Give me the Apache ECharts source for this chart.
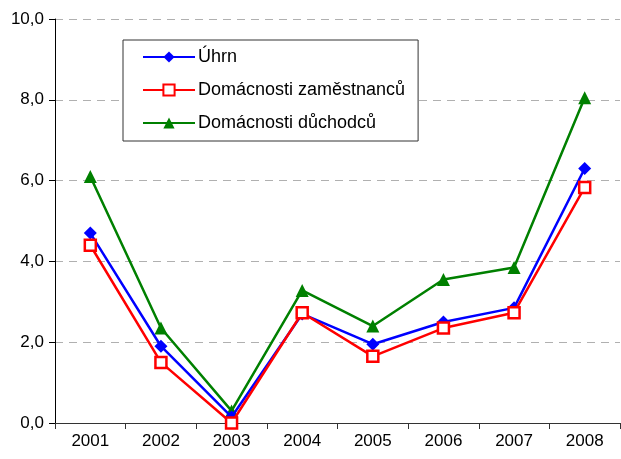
<!DOCTYPE html>
<html>
<head>
<meta charset="utf-8">
<script src="https://cdn.jsdelivr.net/npm/echarts@6/dist/echarts.min.js"></script>
<style>
	html, body { margin: 0; padding: 0; background: #fff; }
	#chart { width: 621px; height: 459px; }
</style>
</head>
<body>
<div id="chart"></div>
<script>
var years = ['2001', '2002', '2003', '2004', '2005', '2006', '2007', '2008'];
var uhrn = [4.7, 1.9, 0.15, 2.7, 1.95, 2.5, 2.85, 6.3];
var zamestnanci = [4.4, 1.5, 0.0, 2.73, 1.65, 2.35, 2.73, 5.83];
var duchodci = [6.1, 2.35, 0.3, 3.28, 2.4, 3.55, 3.85, 8.05];
var yTicks = [0, 2, 4, 6, 8, 10];

var font = '"Liberation Sans", Arial, sans-serif';

function fmt(v) {
	return v.toFixed(1).replace('.', ',');
}

var chart = echarts.init(document.getElementById('chart'));
var option = {
	animation: false,
	textStyle: { fontFamily: font },
	grid: { left: 55, top: 19, right: 1, bottom: 36, containLabel: false },
	legend: {
		orient: 'vertical',
		left: 123,
		top: 40,
		padding: [8, 13, 9, 19],
		itemGap: 15,
		itemWidth: 52,
		itemHeight: 14,
		borderColor: '#333',
		borderWidth: 1,
		backgroundColor: '#fff',
		selectedMode: false,
		textStyle: { fontFamily: font, fontSize: 18, color: '#000', padding: [0, 0, 0, -2] },
		data: ['Úhrn', 'Domácnosti zaměstnanců', 'Domácnosti důchodců']
	},
	xAxis: {
		type: 'category',
		data: years,
		boundaryGap: true,
		axisLine: { lineStyle: { color: '#333', width: 1 } },
		axisTick: { show: true, length: 6, lineStyle: { color: '#333' } },
		axisLabel: { fontSize: 17, color: '#000', margin: 10, fontFamily: font },
		splitLine: { show: false }
	},
	yAxis: {
		type: 'value',
		min: yTicks[0],
		max: yTicks[yTicks.length - 1],
		interval: 2,
		axisLine: { show: true, lineStyle: { color: '#000', width: 1 } },
		axisTick: { show: true, length: 6, lineStyle: { color: '#000' } },
		axisLabel: { fontSize: 17, color: '#000', margin: 11, fontFamily: font, formatter: fmt },
		splitLine: { show: true, lineStyle: { color: '#b0b0b0', type: [8, 6], width: 1 } }
	},
	series: [
		{
			name: 'Úhrn',
			type: 'line',
			data: uhrn,
			color: '#0000ff',
			symbol: 'diamond',
			symbolSize: 13,
			lineStyle: { width: 2.5, color: '#0000ff' },
			itemStyle: { color: '#0000ff' },
			z: 3
		},
		{
			name: 'Domácnosti zaměstnanců',
			type: 'line',
			data: zamestnanci,
			color: '#ff0000',
			symbol: 'rect',
			symbolSize: 11,
			lineStyle: { width: 2.5, color: '#ff0000' },
			itemStyle: { color: '#fff', borderColor: '#ff0000', borderWidth: 2.5 },
			z: 4
		},
		{
			name: 'Domácnosti důchodců',
			type: 'line',
			data: duchodci,
			color: '#008000',
			symbol: 'triangle',
			symbolSize: 13,
			lineStyle: { width: 2.5, color: '#008000' },
			itemStyle: { color: '#008000' },
			z: 2
		}
	]
};
chart.setOption(option);
</script>
</body>
</html>
